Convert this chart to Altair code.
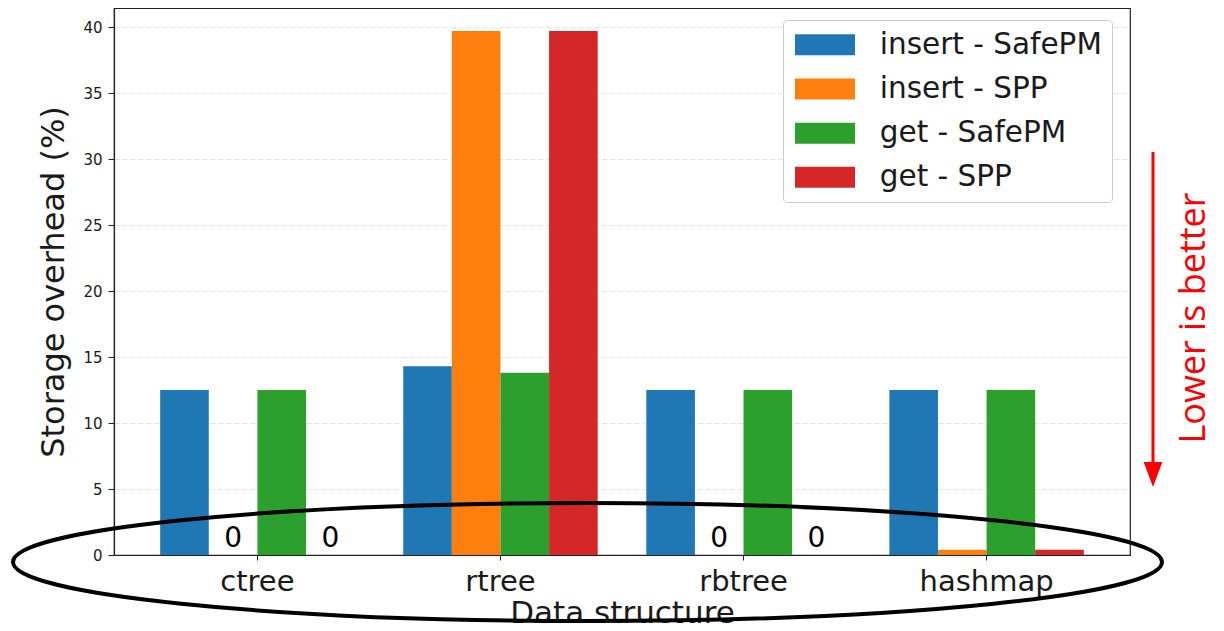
import altair as alt
import pandas as pd

# ---- data ----
categories = ["ctree", "rtree", "rbtree", "hashmap"]
series = ["insert - SafePM", "insert - SPP", "get - SafePM", "get - SPP"]
insert_safepm = [12.5, 14.3, 12.5, 12.5]
insert_spp = [0.0, 39.7, 0.0, 0.4]
get_safepm = [12.5, 13.8, 12.5, 12.5]
get_spp = [0.0, 39.7, 0.0, 0.4]
colors = ["#1f77b4", "#ff7f0e", "#2ca02c", "#d62728"]
y_ticks = [0, 5, 10, 15, 20, 25, 30, 35, 40]

rows = []
for s, vals in zip(series, [insert_safepm, insert_spp, get_safepm, get_spp]):
    for c, v in zip(categories, vals):
        rows.append({"structure": c, "series": s, "value": v})
df = pd.DataFrame(rows)
one = pd.DataFrame({"k": [0]})

W, H = 1016, 547
FONT = "DejaVu Sans"

x_enc = alt.X(
    "structure:N",
    sort=categories,
    scale=alt.Scale(paddingInner=0.2, paddingOuter=0.19),
    axis=alt.Axis(
        title="Data structure",
        labelAngle=0,
        labelFontSize=29,
        labelBaseline="alphabetic",
        labelPadding=30,
        tickSize=5,
        grid=False,
        titleFontSize=31,
        titleBaseline="alphabetic",
        titleAlign="center",
        titleX=W / 2,
        titleY=67,
    ),
)
xoff_enc = alt.XOffset("series:N", sort=series, scale=alt.Scale(paddingInner=0, paddingOuter=0))
y_enc = alt.Y(
    "value:Q",
    scale=alt.Scale(domain=[0, 41.44], nice=False, zero=True),
    axis=alt.Axis(
        values=y_ticks,
        title="Storage overhead (%)",
        titleFontSize=32,
        titleAngle=270,
        titleBaseline="alphabetic",
        titleAlign="center",
        titleX=-51,
        titleY=273.5,
        labelFontSize=15,
        tickSize=6,
        labelPadding=6,
        grid=True,
        gridDash=[5, 3],
        gridColor="#e4e4e4",
    ),
)

legend_shape = "M -2.857 -1 L 2.857 -1 L 2.857 1 L -2.857 1 Z"
color_enc = alt.Color(
    "series:N",
    sort=series,
    scale=alt.Scale(domain=series, range=colors),
    legend=alt.Legend(
        title=None,
        orient="none",
        legendX=669,
        legendY=12,
        labelFont=FONT,
        labelFontSize=29.5,
        labelColor="#1a1a1a",
        labelLimit=500,
        symbolType=legend_shape,
        symbolSize=441,
        symbolStrokeWidth=0,
        symbolOffset=17.25,
        labelOffset=40,
        padding=10,
        rowPadding=13.2,
        strokeColor="#cccccc",
        fillColor="white",
        cornerRadius=4,
    ),
)

bars = alt.Chart(df).mark_bar().encode(x=x_enc, xOffset=xoff_enc, y=y_enc, color=color_enc)

zeros = (
    alt.Chart(df)
    .transform_filter("datum.value == 0")
    .mark_text(text="0", font=FONT, fontSize=28, baseline="alphabetic", align="center", dy=-8, color="black")
    .encode(x=alt.X("structure:N", sort=categories), xOffset=alt.XOffset("series:N", sort=series), y="value:Q")
)

ellipse_path = "M -1 0 A 1 0.1027 0 1 0 1 0 A 1 0.1027 0 1 0 -1 0 Z"
ellipse = (
    alt.Chart(one)
    .mark_point(shape=ellipse_path, size=1320201, filled=False, strokeWidth=4, color="black", opacity=1)
    .encode(x=alt.value(473.5), y=alt.value(554))
)

arrow_line = (
    alt.Chart(one)
    .mark_rule(color="red", strokeWidth=3)
    .encode(x=alt.value(1039), y=alt.value(144), y2=alt.value(456))
)
arrow_head = (
    alt.Chart(one)
    .mark_point(shape="M -0.75 -1 L 0.75 -1 L 0 1 Z", size=625, filled=True, color="red", opacity=1, strokeWidth=0)
    .encode(x=alt.value(1039), y=alt.value(466.5))
)
note = (
    alt.Chart(one)
    .mark_text(text="Lower is better", angle=270, font="Open Sans", fontSize=36, color="red",
               align="center", baseline="alphabetic")
    .encode(x=alt.value(1091), y=alt.value(310))
)

chart = (
    alt.layer(bars, zeros, ellipse, arrow_line, arrow_head, note)
    .properties(
        width=W,
        height=H,
        autosize=alt.AutoSizeParams(type="none"),
        padding={"left": 106, "right": 86, "top": 0, "bottom": 76},
    )
    .configure_view(stroke="#222222", strokeWidth=1.2)
    .configure_axis(
        labelFont=FONT,
        titleFont=FONT,
        labelColor="#1a1a1a",
        titleColor="#1a1a1a",
        titleFontWeight="normal",
        domainColor="#222222",
        tickColor="#222222",
        domainWidth=1.2,
    )
)

chart.save("out.html", embed_options={"renderer": "svg", "actions": False})
